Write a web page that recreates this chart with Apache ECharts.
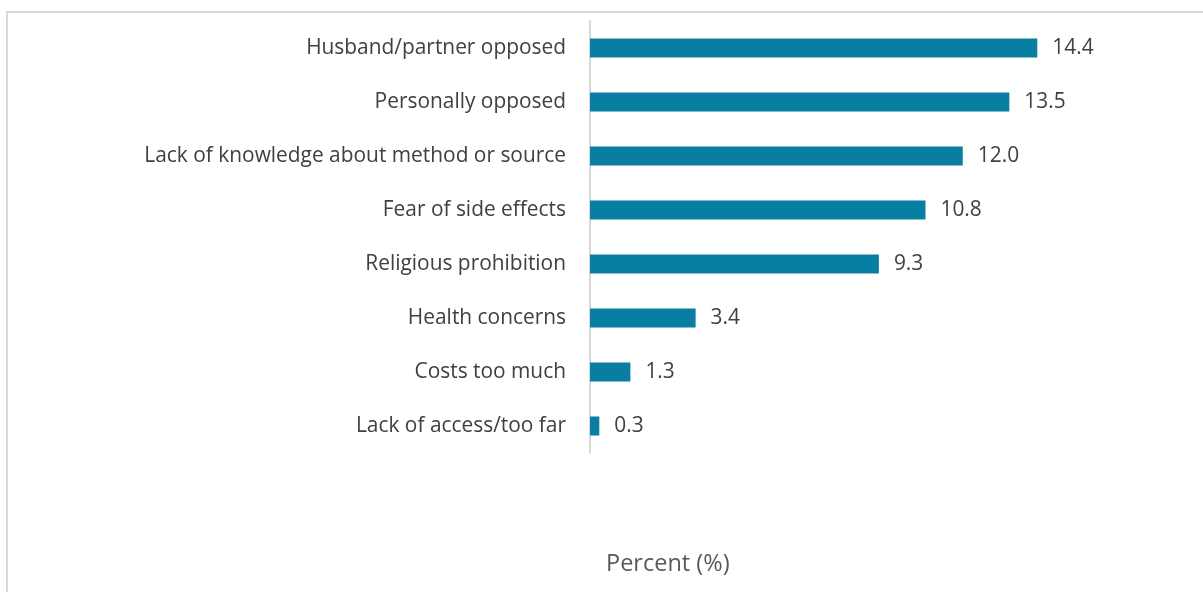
<!DOCTYPE html>
<html>
<head>
<meta charset="utf-8">
<script src="https://cdn.jsdelivr.net/npm/echarts@6/dist/echarts.min.js"></script>
<style>
  html, body { margin: 0; padding: 0; background: #ffffff; }
  #chart { width: 1203px; height: 592px; }
</style>
</head>
<body>
<div id="chart"></div>
<script>
// Reasons for not using contraception (percent)
const categories = [
  'Husband/partner opposed',
  'Personally opposed',
  'Lack of knowledge about method or source',
  'Fear of side effects',
  'Religious prohibition',
  'Health concerns',
  'Costs too much',
  'Lack of access/too far'
];
const values = [14.4, 13.5, 12.0, 10.8, 9.3, 3.4, 1.3, 0.3];
const axisName = 'Percent (%)';

const chart = echarts.init(document.getElementById('chart'), null, { renderer: 'canvas' });
const font = '"Open Sans", "Noto Sans", sans-serif';

chart.setOption({
  backgroundColor: '#ffffff',
  animation: false,
  graphic: [{
    type: 'rect',
    shape: { x: 7, y: 12, width: 1300, height: 700 },
    style: { fill: 'none', stroke: '#d9d9d9', lineWidth: 2 },
    silent: true,
    z: -1
  }, {
    // axis title, centred under the chart area
    type: 'text',
    left: 606,
    top: 552,
    style: { text: axisName, font: '23.5px ' + font, fill: '#595959' },
    silent: true
  }],
  grid: { left: 590, top: 21, width: 497, height: 432, containLabel: false },
  xAxis: {
    type: 'value',
    min: 0,
    max: 16,
    axisLine: { show: false },
    axisTick: { show: false },
    axisLabel: { show: false },
    splitLine: { show: false }
  },
  yAxis: {
    type: 'category',
    data: categories,
    inverse: true,
    axisLine: { show: true, lineStyle: { color: '#d9d9d9', width: 2 } },
    axisTick: { show: false },
    axisLabel: { fontFamily: font, fontSize: 20.9, color: '#404040', margin: 24 }
  },
  series: [{
    type: 'bar',
    data: values,
    barWidth: 19,
    itemStyle: { color: '#077ea2' },
    label: {
      show: true,
      position: 'right',
      distance: 15,
      fontFamily: font,
      fontSize: 20.9,
      color: '#404040',
      formatter: p => p.value.toFixed(1)
    }
  }]
});
</script>
</body>
</html>
